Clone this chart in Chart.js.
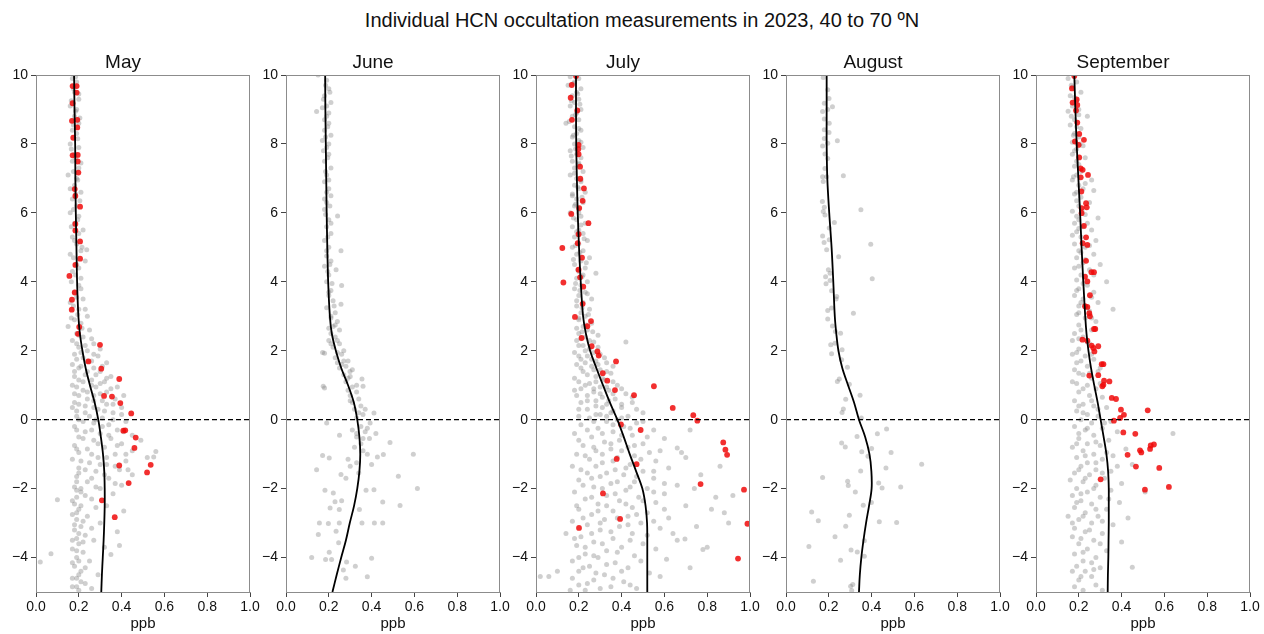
<!DOCTYPE html>
<html>
<head>
<meta charset="utf-8">
<title>HCN occultation measurements 2023</title>
<script src="https://cdn.jsdelivr.net/npm/chart.js@4.4.0/dist/chart.umd.min.js"></script>
<style>
body { margin: 0; background: #fff; }
#page { position: relative; width: 1264px; height: 634px; overflow: hidden; font-family: "Liberation Sans", Arial, sans-serif; }
#suptitle { position: absolute; left: 342px; top: 8px; width: 600px; text-align: center; font-size: 20px; line-height: 24px; color: #111; }
canvas { position: absolute; top: 40px; }
</style>
</head>
<body>
<div id="page">
	<div id="suptitle">Individual HCN occultation measurements in 2023, 40 to 70 ºN</div>
</div>
<script>
// ---- data (x = ppb, y = altitude-like coordinate) ----
var months = ["May", "June", "July", "August", "September"];
var xTicks = [0.0, 0.2, 0.4, 0.6, 0.8, 1.0];
var yTicks = [-4, -2, 0, 2, 4, 6, 8, 10];
var yTickLabels = ["\u22124", "\u22122", "0", "2", "4", "6", "8", "10"];
var zeroLine = [[0, 0], [1, 0]];

// levels at which the black mean curve was read
var curveLevels = [10, 9, 8, 7, 6, 5, 4, 3, 2.5, 2, 1.5, 1, 0.5, 0, -0.5, -1, -1.5, -2, -2.5, -3, -3.5, -4, -4.5, -5];
var mayCurve = [0.178, 0.180, 0.183, 0.184, 0.186, 0.189, 0.192, 0.198, 0.205, 0.217, 0.232, 0.252, 0.274, 0.291, 0.303, 0.313, 0.319, 0.321, 0.321, 0.319, 0.316, 0.312, 0.308, 0.305];
var juneCurve = [0.183, 0.184, 0.186, 0.188, 0.190, 0.193, 0.197, 0.205, 0.214, 0.233, 0.258, 0.290, 0.317, 0.333, 0.343, 0.347, 0.343, 0.333, 0.318, 0.298, 0.280, 0.258, 0.237, 0.217];
var julyCurve = [0.187, 0.187, 0.188, 0.191, 0.195, 0.201, 0.209, 0.220, 0.233, 0.253, 0.282, 0.313, 0.345, 0.380, 0.410, 0.438, 0.468, 0.497, 0.512, 0.519, 0.520, 0.520, 0.520, 0.520];
var augustCurve = [0.190, 0.190, 0.190, 0.193, 0.202, 0.213, 0.221, 0.228, 0.235, 0.245, 0.263, 0.290, 0.318, 0.341, 0.370, 0.390, 0.399, 0.400, 0.388, 0.374, 0.362, 0.352, 0.345, 0.341];
var septemberCurve = [0.179, 0.184, 0.190, 0.198, 0.206, 0.213, 0.221, 0.230, 0.236, 0.245, 0.257, 0.272, 0.288, 0.302, 0.316, 0.329, 0.337, 0.340, 0.340, 0.340, 0.339, 0.338, 0.336, 0.335];

// highlighted (red) measurements
var mayRed = [[0.171,9.68],[0.19,9.68],[0.19,9.49],[0.171,9.18],[0.168,8.67],[0.193,8.70],[0.193,8.48],[0.174,8.18],[0.171,7.67],[0.195,7.68],[0.195,7.49],[0.198,7.17],[0.181,6.69],[0.184,6.49],[0.206,6.18],[0.184,5.68],[0.184,5.49],[0.206,5.17],[0.206,4.67],[0.184,4.49],[0.156,4.17],[0.181,3.69],[0.168,3.48],[0.167,3.19],[0.202,2.69],[0.196,2.49],
	[0.299,2.17],[0.245,1.69],[0.305,1.48],[0.389,1.18],[0.318,0.69],[0.355,0.67],[0.394,0.48],[0.445,0.18],[0.408,-0.32],[0.417,-0.31],[0.466,-0.52],[0.46,-0.82],[0.389,-1.33],[0.536,-1.31],[0.519,-1.53],[0.433,-1.84],[0.308,-2.34],[0.368,-2.83]];
var juneRed = [];
var julyRed = [[0.187,9.97],[0.167,9.71],[0.162,9.34],[0.193,8.97],[0.168,8.70],[0.199,7.97],[0.198,7.85],[0.199,7.70],[0.206,7.34],[0.207,6.99],[0.224,6.71],[0.218,6.35],[0.202,6.14],[0.165,5.97],[0.245,5.70],[0.199,5.38],[0.195,5.12],[0.123,4.98],[0.215,4.70],[0.199,4.35],[0.206,4.13],[0.128,3.98],[0.221,3.86],[0.218,3.36],[0.182,2.98],[0.257,2.86],[0.24,2.71],[0.213,2.37],
	[0.26,2.13],[0.287,1.98],[0.293,1.86],[0.374,1.69],[0.312,1.35],[0.333,1.13],[0.369,0.86],[0.458,0.71],[0.551,0.97],[0.639,0.34],[0.735,0.13],[0.754,-0.03],[0.397,-0.14],[0.489,-0.3],[0.875,-0.66],[0.885,-0.87],[0.893,-1.02],[0.377,-1.14],[0.47,-1.29],[0.769,-1.87],[0.972,-2.03],[0.313,-2.14],[0.988,-3.02],[0.393,-2.88],[0.201,-3.14],[0.944,-4.03]];
var augustRed = [];
var septemberRed = [[0.179,9.97],[0.168,9.61],[0.19,9.29],[0.171,9.2],[0.193,9.13],[0.187,8.97],[0.193,8.62],[0.202,8.29],[0.224,8.12],[0.182,8.07],[0.199,7.97],[0.202,7.61],[0.209,7.29],[0.218,7.25],[0.243,7.1],[0.209,7.03],[0.212,6.62],[0.234,6.28],[0.213,6.14],[0.237,6.16],[0.213,5.99],[0.224,5.62],[0.234,5.29],[0.218,5.12],[0.24,5.07],[0.234,4.61],[0.259,4.28],[0.271,4.28],[0.229,4.15],[0.24,4.01],[0.252,3.61],[0.229,3.29],[0.24,3.27],[0.249,3.09],[0.252,3.0],[0.271,2.63],[0.277,2.63],[0.217,2.32],
	[0.24,2.29],[0.26,2.15],[0.268,2.08],[0.273,1.98],[0.291,2.13],[0.307,1.61],[0.315,1.61],[0.249,1.28],[0.291,1.29],[0.318,1.13],[0.315,1.01],[0.31,0.97],[0.343,1.11],[0.354,0.63],[0.374,0.6],[0.397,0.29],[0.411,0.14],[0.522,0.27],[0.393,0.05],[0.364,-0.03],[0.408,-0.37],[0.464,-0.41],[0.551,-0.72],[0.536,-0.75],[0.533,-0.85],[0.486,-0.89],[0.492,-0.95],[0.428,-1.02],[0.467,-1.36],[0.576,-1.4],[0.302,-1.73],[0.509,-2.03],[0.621,-1.95]];

// all other measurements (grey)
var mayGrey = [[0.17,9.9],[0.19,9.8],[0.18,9.5],[0.2,9.3],[0.16,9.1],[0.19,9.0],[0.18,8.8],[0.2,8.6],[0.17,8.4],[0.19,8.3],[0.16,8.0],[0.2,7.9],[0.18,7.7],[0.17,7.5],[0.2,7.3],[0.15,7.1],[0.19,7.0],[0.18,6.8],[0.21,6.6],[0.17,6.4],[0.19,6.2],[0.16,6.0],[0.2,5.9],[0.18,5.7],[0.22,5.5],[0.17,5.3],[0.19,5.1],[0.21,4.9],[0.237,4.93],[0.16,4.8],[0.23,4.6],[0.19,4.5],[0.17,4.3],[0.21,4.1],[0.2,3.9],[0.18,3.7],[0.22,3.5],[0.16,3.4],[0.2,3.2],[0.24,3.0],[0.18,2.9],[0.21,2.8],[0.15,2.7],[0.25,2.6],[0.19,2.5],
	[0.185,9.95],[0.175,9.6],[0.2,9.45],[0.165,9.25],[0.185,8.95],[0.205,8.75],[0.175,8.55],[0.195,8.15],[0.165,7.85],[0.185,7.6],[0.21,7.45],[0.175,7.2],[0.195,6.95],[0.16,6.7],[0.185,6.55],[0.205,6.35],[0.175,6.1],[0.195,5.8],[0.165,5.6],[0.2,5.4],[0.18,5.2],[0.215,5.0],[0.175,4.7],[0.2,4.4],[0.185,4.2],[0.165,4.0],[0.21,3.8],[0.19,3.55],[0.175,3.3],[0.23,3.2],[0.195,3.05],[0.165,2.95],[0.215,2.65],
	[0.22,2.4],[0.17,2.3],[0.27,2.2],[0.2,2.1],[0.24,2.0],[0.18,1.9],[0.29,1.85],[0.22,1.8],[0.26,1.7],[0.17,1.6],[0.31,1.55],[0.2,1.5],[0.24,1.4],[0.28,1.3],[0.18,1.25],[0.33,1.2],[0.22,1.1],[0.3,1.05],[0.26,1.0],[0.19,0.95],[0.35,0.9],[0.24,0.8],[0.3,0.75],[0.2,0.7],[0.37,0.6],[0.27,0.55],[0.18,0.5],[0.33,0.45],[0.23,0.4],[0.4,0.35],[0.29,0.3],[0.19,0.25],[0.36,0.2],[0.25,0.1],[0.31,0.05],[0.2,0.0],[0.42,-0.05],[0.27,-0.1],[0.34,-0.15],[0.18,-0.2],[0.38,-0.3],[0.23,-0.35],[0.3,-0.4],[0.45,-0.45],[0.2,-0.5],[0.35,-0.55],[0.27,-0.6],[0.49,-0.6],[0.4,-0.7],[0.18,-0.75],[0.32,-0.8],[0.24,-0.85],[0.45,-0.9],[0.56,-0.92],[0.2,-0.95],[0.37,-1.0],[0.55,-1.08],[0.52,-1.1],[0.29,-1.1],[0.17,-1.15],[0.42,-1.2],[0.25,-1.25],[0.33,-1.3],[0.2,-1.4],[0.39,-1.45],[0.28,-1.5],[0.45,-1.6],[0.19,-1.65],[0.34,-1.7],[0.24,-1.8],[0.4,-1.9],[0.18,-1.95],[0.3,-2.0],
	[0.2,2.45],[0.26,2.35],[0.19,2.2],[0.23,2.15],[0.3,2.05],[0.21,1.95],[0.27,1.9],[0.19,1.75],[0.24,1.7],[0.33,1.65],[0.21,1.55],[0.27,1.5],[0.18,1.4],[0.3,1.4],[0.23,1.3],[0.35,1.25],[0.2,1.15],[0.26,1.15],[0.32,1.1],[0.17,1.0],[0.28,0.95],[0.38,0.95],[0.22,0.85],[0.33,0.8],[0.18,0.75],[0.27,0.7],[0.41,0.7],[0.24,0.6],[0.31,0.55],[0.2,0.45],[0.36,0.45],[0.27,0.35],[0.17,0.35],[0.32,0.25],[0.23,0.2],[0.4,0.15],[0.19,0.1],[0.28,0.0],[0.36,0.0],[0.22,-0.05],[0.31,-0.2],[0.19,-0.3],[0.26,-0.3],[0.41,-0.35],[0.34,-0.45],[0.22,-0.55],[0.29,-0.7],[0.38,-0.75],[0.19,-0.85],[0.42,-1.0],[0.26,-1.0],[0.33,-1.1],[0.21,-1.2],[0.37,-1.35],[0.3,-1.3],[0.23,-1.45],[0.43,-1.45],[0.2,-1.55],[0.32,-1.6],[0.26,-1.7],[0.19,-1.8],[0.37,-1.85],[0.28,-1.95],[0.21,-2.0],
	[0.21,-2.1],[0.36,-2.15],[0.19,-2.25],[0.1,-2.32],[0.26,-2.3],[0.18,-2.45],[0.33,-2.5],[0.2,-2.6],[0.41,-2.65],[0.17,-2.75],[0.24,-2.8],[0.19,-2.9],[0.3,-3.0],[0.21,-3.1],[0.18,-3.2],[0.38,-3.25],[0.23,-3.35],[0.19,-3.45],[0.27,-3.5],[0.2,-3.6],[0.39,-3.65],[0.17,-3.75],[0.22,-3.85],[0.07,-3.89],[0.35,-3.91],[0.19,-4.0],[0.02,-4.13],[0.25,-4.1],[0.18,-4.25],[0.21,-4.4],[0.29,-4.5],[0.19,-4.6],[0.23,-4.75],[0.17,-4.85],[0.2,-4.95],
	[0.19,-2.05],[0.23,-2.2],[0.17,-2.35],[0.21,-2.5],[0.28,-2.55],[0.19,-2.7],[0.22,-2.95],[0.18,-3.05],[0.26,-3.15],[0.2,-3.3],[0.17,-3.5],[0.22,-3.55],[0.32,-3.7],[0.19,-3.8],[0.2,-4.1],[0.17,-4.15],[0.23,-4.3],[0.2,-4.5],[0.17,-4.6],[0.21,-4.7],[0.19,-4.85],[0.26,-4.9]];
var juneGrey = [[0.15,10.0],[0.19,9.85],[0.2,9.6],[0.18,9.4],[0.21,9.2],[0.17,9.05],[0.143,8.94],[0.19,8.8],[0.2,8.6],[0.18,8.4],[0.21,8.25],[0.17,8.1],[0.19,7.9],[0.2,7.7],[0.18,7.5],[0.21,7.3],[0.19,7.1],[0.18,6.9],[0.2,6.7],[0.21,6.5],[0.19,6.3],[0.18,6.1],[0.241,5.91],[0.2,5.8],[0.19,5.6],[0.21,5.4],[0.18,5.2],[0.2,5.0],[0.257,4.9],[0.19,4.75],[0.21,4.6],[0.18,4.45],[0.234,4.35],[0.2,4.2],[0.19,4.0],[0.26,3.89],[0.21,3.75],[0.2,3.6],[0.22,3.45],[0.257,3.35],[0.19,3.25],[0.23,3.1],[0.21,2.95],[0.24,2.85],[0.22,2.7],[0.25,2.6],[0.21,2.5],
	[0.185,9.7],[0.205,9.5],[0.175,9.3],[0.19,9.1],[0.2,8.9],[0.18,8.7],[0.195,8.5],[0.185,8.2],[0.2,8.0],[0.175,7.8],[0.195,7.6],[0.185,7.2],[0.2,6.95],[0.19,6.6],[0.18,6.4],[0.205,6.2],[0.185,5.95],[0.21,5.7],[0.195,5.3],[0.19,4.9],[0.205,4.5],[0.195,4.3],[0.215,3.95],[0.2,3.7],[0.225,3.3],[0.21,3.0],[0.23,2.75],[0.2,2.65],
	[0.23,2.4],[0.2,2.3],[0.25,2.2],[0.22,2.1],[0.171,1.95],[0.18,1.93],[0.26,1.9],[0.23,1.8],[0.27,1.7],[0.24,1.65],[0.28,1.55],[0.25,1.5],[0.299,1.4],[0.27,1.3],[0.3,1.25],[0.355,1.18],[0.28,1.1],[0.174,0.97],[0.18,0.92],[0.36,0.97],[0.31,0.95],[0.29,0.85],[0.33,0.8],[0.3,0.7],[0.34,0.6],[0.31,0.5],[0.35,0.4],[0.32,0.3],[0.411,0.19],[0.36,0.15],[0.33,0.05],[0.19,-0.1],[0.393,-0.1],[0.35,-0.2],[0.31,-0.3],[0.37,-0.35],[0.25,-0.45],[0.33,-0.5],[0.39,-0.55],[0.486,-0.66],[0.35,-0.7],[0.32,-0.8],[0.36,-0.9],[0.171,-1.04],[0.202,-1.11],[0.595,-1.0],[0.455,-1.01],[0.427,-1.08],[0.38,-1.0],[0.29,-1.15],[0.33,-1.25],[0.143,-1.45],[0.3,-1.35],[0.4,-1.3],[0.257,-1.59],[0.525,-1.64],[0.34,-1.55],[0.28,-1.7],
	[0.24,2.3],[0.21,2.2],[0.27,2.0],[0.24,1.95],[0.29,1.7],[0.26,1.6],[0.31,1.45],[0.29,1.2],[0.33,1.0],[0.3,0.55],[0.37,0.3],[0.34,0.2],[0.38,-0.25],[0.33,-0.4],[0.42,-0.4],[0.36,-0.55],
	[0.614,-2.0],[0.182,-2.05],[0.374,-2.05],[0.411,-2.03],[0.221,-2.13],[0.533,-2.49],[0.452,-2.39],[0.229,-2.38],[0.26,-2.35],[0.206,-2.56],[0.249,-2.61],[0.343,-2.61],[0.156,-3.0],[0.198,-3.01],[0.151,-3.33],[0.234,-3.24],[0.249,-3.0],[0.355,-3.0],[0.413,-3.0],[0.452,-3.0],[0.246,-3.57],[0.202,-3.85],[0.12,-4.0],[0.185,-4.06],[0.213,-4.06],[0.283,-4.13],[0.324,-4.25],[0.4,-4.02],[0.268,-4.36],[0.28,-4.6],[0.38,-4.56]];
var julyGrey = [[0.16,9.95],[0.2,9.9],[0.18,9.8],[0.15,9.7],[0.21,9.6],[0.19,9.5],[0.17,9.4],[0.2,9.3],[0.18,9.2],[0.16,9.1],[0.21,9.0],[0.19,8.9],[0.17,8.8],[0.2,8.7],[0.14,8.6],[0.18,8.5],[0.21,8.4],[0.19,8.3],[0.17,8.2],[0.2,8.1],[0.18,8.0],[0.22,7.9],[0.16,7.8],[0.19,7.7],[0.21,7.6],[0.17,7.5],[0.2,7.4],[0.18,7.3],[0.22,7.2],[0.16,7.1],[0.19,7.0],[0.21,6.9],[0.18,6.8],[0.2,6.7],[0.23,6.6],[0.17,6.5],[0.19,6.4],[0.22,6.3],[0.18,6.2],[0.2,6.1],[0.16,6.0],[0.21,5.9],[0.19,5.8],[0.23,5.7],[0.17,5.6],[0.2,5.5],[0.22,5.4],[0.18,5.3],[0.24,5.2],[0.2,5.1],[0.17,5.0],[0.22,4.9],[0.19,4.8],[0.25,4.7],[0.21,4.6],[0.18,4.5],[0.23,4.4],[0.2,4.3],[0.28,4.25],[0.22,4.2],[0.19,4.1],[0.24,4.0],[0.21,3.9],[0.18,3.8],[0.23,3.7],[0.2,3.6],[0.26,3.5],[0.22,3.4],[0.19,3.3],[0.25,3.2],[0.21,3.1],[0.23,3.0],[0.2,2.9],[0.26,2.8],[0.22,2.7],[0.24,2.6],[0.2,2.5],[0.29,2.45],
	[0.175,9.75],[0.195,9.45],[0.165,9.25],[0.205,9.15],[0.185,8.85],[0.155,8.65],[0.2,8.45],[0.175,8.25],[0.21,8.05],[0.185,7.85],[0.165,7.65],[0.2,7.45],[0.18,7.15],[0.21,6.95],[0.195,6.75],[0.17,6.55],[0.215,6.45],[0.185,6.25],[0.2,6.0],[0.175,5.85],[0.21,5.65],[0.19,5.45],[0.225,5.25],[0.185,5.05],[0.205,4.85],[0.175,4.65],[0.235,4.55],[0.195,4.35],[0.215,4.15],[0.185,3.95],[0.205,3.75],[0.24,3.65],[0.19,3.45],[0.215,3.25],[0.245,3.05],[0.2,2.95],[0.235,2.75],[0.19,2.65],[0.215,2.55],[0.265,2.55],
	[0.23,2.4],[0.19,2.3],[0.27,2.25],[0.22,2.15],[0.42,2.25],[0.25,2.05],[0.18,1.95],[0.3,1.9],[0.24,1.85],[0.21,1.75],[0.28,1.7],[0.33,1.65],[0.19,1.6],[0.26,1.55],[0.3,1.45],[0.22,1.4],[0.35,1.35],[0.28,1.25],[0.18,1.2],[0.32,1.15],[0.25,1.05],[0.38,1.0],[0.3,0.95],[0.21,0.9],[0.34,0.85],[0.27,0.8],[0.42,0.75],[0.19,0.7],[0.31,0.65],[0.37,0.6],[0.24,0.55],[0.45,0.5],[0.33,0.45],[0.28,0.4],[0.4,0.35],[0.2,0.3],[0.36,0.25],[0.5,0.2],[0.3,0.15],[0.43,0.1],[0.25,0.05],[0.38,0.0],
	[0.21,2.35],[0.25,2.3],[0.2,2.15],[0.29,2.1],[0.23,2.0],[0.27,1.95],[0.2,1.85],[0.32,1.8],[0.26,1.75],[0.23,1.65],[0.29,1.6],[0.36,1.55],[0.21,1.5],[0.27,1.45],[0.33,1.4],[0.24,1.3],[0.31,1.2],[0.2,1.1],[0.28,1.1],[0.36,1.1],[0.23,1.0],[0.33,0.95],[0.27,0.9],[0.4,0.9],[0.18,0.85],[0.3,0.75],[0.36,0.75],[0.24,0.7],[0.45,0.65],[0.34,0.55],[0.28,0.55],[0.21,0.5],[0.4,0.45],[0.31,0.35],[0.24,0.3],[0.47,0.3],[0.35,0.2],[0.28,0.15],[0.2,0.1],[0.4,0.05],[0.33,0.1],
	[0.33,-0.05],[0.47,-0.1],[0.21,-0.15],[0.41,-0.2],[0.29,-0.25],[0.55,-0.3],[0.36,-0.35],[0.18,-0.4],[0.45,-0.45],[0.26,-0.5],[0.6,-0.55],[0.39,-0.6],[0.32,-0.65],[0.5,-0.7],[0.22,-0.75],[0.43,-0.8],[0.66,-0.82],[0.35,-0.85],[0.28,-0.9],[0.53,-0.95],[0.19,-1.0],[0.46,-1.05],[0.38,-1.1],[0.7,-1.1],[0.25,-1.15],[0.56,-1.2],[0.31,-1.25],[0.44,-1.3],[0.86,-1.35],[0.17,-1.35],[0.62,-1.4],[0.37,-1.45],[0.5,-1.5],[0.24,-1.55],[0.41,-1.6],[0.77,-1.6],[0.3,-1.65],[0.55,-1.7],[0.2,-1.75],[0.46,-1.8],[0.35,-1.85],[0.66,-1.9],[0.27,-1.95],[0.52,-2.0],[0.42,-2.05],[0.18,-2.1],[0.6,-2.15],[0.33,-2.2],[0.48,-2.25],[0.84,-2.25],[0.23,-2.3],[0.39,-2.35],[0.56,-2.4],[0.29,-2.45],[0.7,-2.5],[0.45,-2.55],[0.2,-2.6],[0.36,-2.65],[0.52,-2.7],[0.26,-2.75],[0.88,-2.7],[0.43,-2.8],[0.62,-2.85],[0.32,-2.9],[0.17,-2.95],[0.49,-3.0],[0.24,-3.05],[0.39,-3.1],[0.75,-3.1],[0.58,-3.15],[0.3,-3.2],[0.14,-3.3],[0.45,-3.3],[0.21,-3.4],[0.36,-3.45],[0.696,-3.46],[0.66,-3.5],[0.27,-3.55],[0.5,-3.6],[0.19,-3.65],[0.4,-3.7],[0.8,-3.7],[0.78,-3.77],[0.33,-3.8],[0.23,-3.9],[0.46,-3.95],[0.29,-4.0],[0.61,-4.05],[0.17,-4.1],[0.37,-4.15],[0.25,-4.25],[0.43,-4.3],[0.2,-4.4],[0.1,-4.4],[0.53,-4.45],[0.32,-4.5],[0.06,-4.55],[0.02,-4.55],[0.27,-4.65],[0.41,-4.7],[0.2,-4.8],[0.35,-4.85],[0.23,-4.95],[0.47,-4.9],
	[0.5,-0.05],[0.27,-0.05],[0.36,-0.15],[0.44,-0.25],[0.24,-0.3],[0.31,-0.4],[0.4,-0.45],[0.52,-0.5],[0.2,-0.6],[0.35,-0.7],[0.46,-0.75],[0.27,-0.8],[0.4,-0.9],[0.58,-0.9],[0.31,-1.0],[0.23,-1.05],[0.49,-1.15],[0.36,-1.2],[0.28,-1.35],[0.42,-1.4],[0.21,-1.45],[0.55,-1.5],[0.33,-1.55],[0.47,-1.65],[0.26,-1.7],[0.38,-1.8],[0.6,-1.85],[0.22,-1.9],[0.44,-1.95],[0.31,-2.0],[0.55,-2.1],[0.37,-2.15],[0.26,-2.25],[0.5,-2.35],[0.42,-2.45],[0.33,-2.5],[0.19,-2.5],[0.6,-2.6],[0.29,-2.65],[0.47,-2.75],[0.38,-2.85],[0.22,-2.85],[0.55,-2.95],[0.3,-3.0],[0.43,-3.05],[0.35,-3.25],[0.26,-3.3],[0.52,-3.35],[0.18,-3.45],[0.44,-3.5],[0.31,-3.6],[0.23,-3.7],[0.56,-3.75],[0.38,-3.85],[0.27,-3.95],[0.2,-4.0],[0.49,-4.1],[0.33,-4.2],[0.22,-4.3],[0.4,-4.4],[0.28,-4.45],[0.58,-4.55],[0.17,-4.6],[0.36,-4.6],[0.24,-4.75],[0.44,-4.8],[0.3,-4.9],[0.16,-4.95],
	[0.72,-0.3],[0.68,-0.95],[0.74,-2.0],[0.82,-2.6],[0.64,-3.3],[0.72,-4.3],[0.9,-3.0],[0.92,-2.2]];
var augustGrey = [[0.174,9.93],[0.195,9.57],[0.201,9.32],[0.217,9.08],[0.179,9.18],[0.171,8.94],[0.195,9.0],[0.179,8.72],[0.202,8.6],[0.179,8.41],[0.201,8.33],[0.24,8.09],[0.179,8.16],[0.171,7.94],[0.195,8.02],[0.182,7.71],[0.195,7.58],[0.182,7.29],[0.171,7.05],[0.268,7.08],[0.174,6.91],[0.19,7.05],[0.17,6.33],[0.179,6.16],[0.174,6.04],[0.182,5.94],[0.35,6.09],[0.226,5.72],[0.202,5.56],[0.202,5.22],[0.171,5.33],[0.178,5.14],[0.19,4.93],[0.396,5.09],[0.246,4.73],[0.198,4.35],[0.206,4.25],[0.185,4.15],[0.206,4.04],[0.187,3.94],[0.403,4.09],[0.213,3.74],[0.237,3.57],[0.234,3.5],[0.195,3.17],[0.213,3.24],[0.315,3.09],[0.195,2.92],[0.217,2.72],[0.255,2.51],[0.231,2.56],
	[0.209,2.17],[0.213,1.91],[0.229,2.22],[0.262,2.03],[0.26,1.74],[0.287,1.52],[0.24,1.11],[0.249,1.18],[0.296,1.03],[0.346,0.71],[0.279,0.59],[0.268,0.31],[0.262,0.21],[0.352,0.05],[0.47,-0.27],[0.427,-0.41],[0.332,-0.49],[0.26,-0.68],[0.277,-0.79],[0.4,-0.84],[0.491,-0.95],[0.354,-0.93],[0.383,-1.06],[0.634,-1.29],[0.467,-1.4],[0.349,-1.49],[0.171,-1.68],[0.288,-1.79],[0.291,-1.91],[0.433,-1.84],[0.449,-1.98],[0.536,-1.95],[0.324,-2.1],[0.399,-2.4],[0.361,-2.48],[0.12,-2.68],[0.296,-2.77],[0.151,-2.93],[0.279,-3.09],[0.436,-2.96],[0.517,-2.98],[0.229,-3.4],[0.366,-3.51],[0.107,-3.68],[0.304,-3.78],[0.333,-3.84],[0.366,-3.96],[0.255,-4.08],[0.128,-4.69],[0.302,-4.83],[0.312,-4.78],[0.307,-4.96]];
var septemberGrey = [[0.15,9.9],[0.19,9.8],[0.17,9.65],[0.21,9.5],[0.16,9.4],[0.19,9.25],[0.17,9.1],[0.15,8.95],[0.2,8.85],[0.24,8.8],[0.18,8.7],[0.16,8.55],[0.21,8.45],[0.18,8.3],[0.2,8.2],[0.17,8.05],[0.22,7.95],[0.19,7.85],[0.17,7.7],[0.23,7.6],[0.19,7.5],[0.18,7.35],[0.21,7.2],[0.26,6.95],[0.19,7.1],[0.17,6.95],[0.2,6.8],[0.22,6.7],[0.27,6.65],[0.18,6.55],[0.21,6.45],[0.19,6.35],[0.25,6.3],[0.2,6.2],[0.17,6.05],[0.23,5.95],[0.29,5.85],[0.2,5.8],[0.18,5.7],[0.22,5.6],[0.26,5.5],[0.19,5.45],[0.21,5.3],[0.28,5.2],[0.18,5.1],[0.23,5.0],[0.2,4.9],[0.27,4.8],[0.19,4.7],[0.22,4.55],[0.3,4.5],[0.18,4.4],[0.25,4.35],[0.21,4.2],[0.33,4.0],[0.19,4.05],[0.24,3.9],[0.2,3.8],[0.27,3.7],[0.18,3.6],[0.22,3.5],[0.29,3.4],[0.2,3.3],[0.36,3.2],[0.25,3.15],[0.19,3.05],[0.23,2.95],[0.28,2.85],[0.2,2.75],[0.26,2.6],[0.18,2.5],
	[0.165,9.7],[0.18,9.35],[0.2,9.0],[0.165,8.8],[0.19,8.5],[0.175,8.25],[0.205,8.0],[0.18,7.8],[0.2,7.4],[0.175,7.05],[0.23,6.85],[0.19,6.6],[0.215,6.05],[0.19,5.9],[0.24,5.7],[0.2,5.55],[0.17,5.35],[0.25,5.05],[0.21,4.85],[0.23,4.65],[0.2,4.45],[0.27,4.2],[0.22,3.95],[0.19,3.75],[0.26,3.55],[0.21,3.4],[0.24,3.25],[0.2,3.1],[0.26,2.95],[0.21,2.6],
	[0.22,2.4],[0.17,2.3],[0.25,2.2],[0.2,2.05],[0.17,1.9],[0.23,1.85],[0.27,1.75],[0.19,1.65],[0.24,1.55],[0.18,1.45],[0.29,1.4],[0.22,1.3],[0.26,1.2],[0.17,1.1],[0.24,1.0],[0.28,0.9],[0.2,0.8],[0.25,0.7],[0.31,0.65],[0.18,0.55],[0.22,0.45],[0.27,0.4],[0.33,0.35],[0.19,0.25],[0.24,0.15],[0.29,0.1],[0.21,0.0],[0.35,-0.05],[0.26,-0.1],[0.18,-0.2],[0.31,-0.25],[0.23,-0.3],[0.38,-0.35],[0.64,-0.4],[0.27,-0.45],[0.2,-0.55],[0.34,-0.6],[0.24,-0.7],[0.3,-0.75],[0.17,-0.8],[0.42,-0.85],[0.22,-0.9],[0.27,-1.0],[0.36,-1.05],[0.19,-1.1],[0.31,-1.15],[0.24,-1.25],[0.45,-1.3],[0.21,-1.35],[0.28,-1.45],[0.35,-1.5],[0.18,-1.55],[0.25,-1.6],[0.32,-1.7],[0.16,-1.75],[0.22,-1.8],[0.4,-1.85],[0.28,-1.9],[0.19,-2.0],[0.35,-2.05],[0.24,-2.1],[0.51,-2.1],[0.17,-2.2],[0.3,-2.25],[0.21,-2.35],[0.39,-2.4],[0.26,-2.45],[0.18,-2.55],[0.33,-2.6],[0.23,-2.7],[0.15,-2.8],[0.29,-2.8],[0.43,-2.85],[0.2,-2.9],[0.26,-3.0],[0.36,-3.05],[0.18,-3.15],[0.23,-3.25],[0.31,-3.3],[0.17,-3.4],[0.27,-3.5],[0.4,-3.55],[0.2,-3.6],[0.24,-3.75],[0.33,-3.8],[0.18,-3.9],[0.28,-4.0],[0.22,-4.1],[0.19,-4.25],[0.3,-4.3],[0.45,-4.28],[0.23,-4.4],[0.26,-4.55],[0.2,-4.65],[0.28,-4.8],[0.22,-4.95],
	[0.2,2.35],[0.24,2.25],[0.19,1.95],[0.26,1.9],[0.21,1.7],[0.3,1.5],[0.2,1.35],[0.25,1.35],[0.19,1.05],[0.3,1.05],[0.22,0.9],[0.26,0.55],[0.2,0.4],[0.29,0.3],[0.22,0.2],[0.32,-0.1],[0.24,-0.25],[0.2,-0.4],[0.28,-0.65],[0.19,-0.7],[0.33,-0.95],[0.23,-1.05],[0.28,-1.25],[0.38,-1.35],[0.2,-1.45],[0.31,-1.55],[0.23,-1.7],[0.27,-2.0],[0.21,-2.15],[0.34,-2.3],[0.19,-2.4],[0.28,-2.6],[0.22,-2.8],[0.31,-2.95],[0.17,-3.0],[0.25,-3.2],[0.21,-3.45],[0.3,-3.6],[0.22,-3.85],[0.26,-4.15],[0.17,-4.4],[0.27,-4.35],[0.21,-4.55],[0.18,-4.85],[0.31,-4.95]];

var greyData = [mayGrey, juneGrey, julyGrey, augustGrey, septemberGrey];
var redData = [mayRed, juneRed, julyRed, augustRed, septemberRed];
var curveData = [mayCurve, juneCurve, julyCurve, augustCurve, septemberCurve];

// panel placement (left edge of each plot frame in the page)
var panelLeft = [36, 286, 536, 786, 1036];
var plotWidth = 214;
var yAxisWidth = 40;
var fontFamily = '"Liberation Sans", Arial, sans-serif';

Chart.defaults.font.family = fontFamily;
Chart.defaults.color = '#111';

function toXY(pairs) {
	return pairs.map(function (p) { return { x: p[0], y: p[1] }; });
}

// draws the grey box round the plot area like matplotlib spines
var framePlugin = {
	id: 'frame',
	afterDraw: function (chart) {
		var a = chart.chartArea;
		var ctx = chart.ctx;
		ctx.save();
		ctx.strokeStyle = '#8c8c8c';
		ctx.lineWidth = 1;
		ctx.strokeRect(a.left + 0.5, a.top + 0.5, a.right - a.left - 1, a.bottom - a.top);
		ctx.restore();
	}
};

function generateChart(i) {
	var canvas = document.createElement('canvas');
	canvas.width = yAxisWidth + plotWidth + 14;
	canvas.height = 594;
	canvas.style.left = (panelLeft[i] - yAxisWidth) + 'px';
	document.getElementById('page').appendChild(canvas);

	var curve = curveData[i].map(function (x, k) { return { x: x, y: curveLevels[k] }; });

	// first dataset is drawn on top
	var datasets = [
		{
			data: toXY(zeroLine),
			showLine: true,
			borderColor: '#000',
			borderWidth: 1.2,
			borderDash: [5, 3],
			pointRadius: 0,
			clip: 0
		},
		{
			data: curve,
			showLine: true,
			borderColor: '#000',
			borderWidth: 1.8,
			tension: 0.35,
			pointRadius: 0,
			clip: 0
		},
		{
			data: toXY(redData[i]),
			backgroundColor: 'rgba(240, 10, 10, 0.85)',
			borderWidth: 0,
			pointRadius: 2.9,
			clip: 0
		},
		{
			data: toXY(greyData[i]),
			backgroundColor: 'rgba(128, 128, 128, 0.38)',
			borderWidth: 0,
			pointRadius: 2.5,
			clip: 0
		}
	];

	var chart = new Chart(canvas, {
		type: 'scatter',
		data: { datasets: datasets },
		plugins: [framePlugin],
		options: {
			responsive: false,
			animation: false,
			events: [],
			layout: { padding: { left: 0, right: 14, top: 0, bottom: 0 } },
			plugins: {
				legend: { display: false },
				tooltip: { enabled: false },
				title: {
					display: true,
					text: months[i],
					font: { size: 19, weight: 'normal' },
					color: '#111',
					padding: { top: 11, bottom: 1.2 }
				}
			},
			scales: {
				x: {
					type: 'linear',
					min: 0,
					max: 1,
					afterBuildTicks: function (s) { s.ticks = xTicks.map(function (v) { return { value: v }; }); },
					afterFit: function (s) { s.height = 42; },
					ticks: {
						callback: function (v) { return Number(v).toFixed(1); },
						font: { size: 14 },
						color: '#111',
						padding: 2,
						maxRotation: 0,
						autoSkip: false
					},
					grid: { display: true, drawOnChartArea: false, drawTicks: true, tickLength: 5, tickColor: '#444' },
					border: { display: true, color: '#8c8c8c' },
					title: { display: true, text: 'ppb', font: { size: 15 }, color: '#111', padding: { top: 0, bottom: 1 } }
				},
				y: {
					type: 'linear',
					min: -5,
					max: 10,
					afterBuildTicks: function (s) { s.ticks = yTicks.map(function (v) { return { value: v }; }); },
					afterFit: function (s) { s.width = yAxisWidth; },
					ticks: {
						callback: function (v, idx) { return yTickLabels[idx]; },
						font: { size: 14 },
						color: '#111',
						padding: 3,
						autoSkip: false
					},
					grid: { display: true, drawOnChartArea: false, drawTicks: true, tickLength: 5, tickColor: '#444' },
					border: { display: true, color: '#8c8c8c' }
				}
			}
		}
	});
	return chart;
}

for (var i = 0; i < months.length; i++) {
	generateChart(i);
}
</script>
</body>
</html>
